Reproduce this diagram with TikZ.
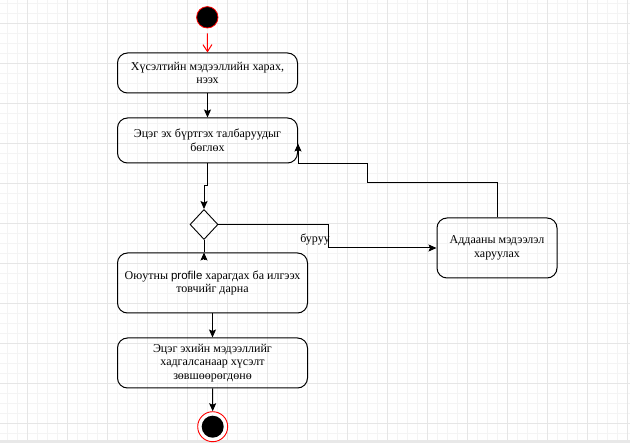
\documentclass[tikz,border=0pt]{standalone}
\usepackage{fontspec}
\setmainfont{Liberation Serif}
\newfontfamily\arialfont{Liberation Sans}
\usetikzlibrary{shapes.geometric,arrows.meta,calc}
\definecolor{gridmajor}{HTML}{E6E6E6}
\definecolor{gridminor}{HTML}{F4F4F4}
\definecolor{drawred}{HTML}{FF0000}
\tikzset{
  actbox/.style={draw=black,line width=1pt,rounded corners=10pt,align=center,
    font=\fontsize{12}{13.5}\selectfont,inner sep=2pt},
  conn/.style={draw=black,line width=1pt},
  arr/.style={conn,-{Stealth[length=8pt,width=7pt,inset=1.5pt]}},
  redarr/.style={draw=drawred,line width=1pt,-{Straight Barb[length=7pt,width=9pt]}},
  lbl/.style={font=\fontsize{12}{13.5}\selectfont,inner sep=0pt}
}
\begin{document}
\begin{tikzpicture}[x=1pt,y=-1pt]
\useasboundingbox (0,0) rectangle (630,443);
\fill[white] (0,0) rectangle (630,443);
% grid
\foreach \gx in {7,17,...,627} {\draw[gridminor,line width=0.8pt] (\gx,0) -- (\gx,443);}
\foreach \gy in {3,13,...,443} {\draw[gridminor,line width=0.8pt] (0,\gy) -- (630,\gy);}
\foreach \gx in {27,67,...,627} {\draw[gridmajor,line width=0.9pt] (\gx,0) -- (\gx,443);}
\foreach \gy in {23,63,...,423} {\draw[gridmajor,line width=0.9pt] (0,\gy) -- (630,\gy);}
\fill[gray!18] (0,440.5) rectangle (630,443);
% start
\node[circle,draw=drawred,fill=black,line width=0.8pt,minimum size=21.4pt,inner sep=0pt] (start) at (207.3,17.3) {};
% boxes
\node[actbox,minimum width=180pt,minimum height=40pt] (b1) at (207.5,73) {Хүсэлтийн мэдээллийн харах,\\нээх};
\node[actbox,minimum width=180pt,minimum height=45pt] (b2) at (207.5,140.5) {Эцэг эх бүртгэх талбаруудыг\\бөглөх};
\node[draw=black,line width=0.9pt,shape=diamond,minimum width=28pt,minimum height=30pt,inner sep=0pt] (d) at (204,224.5) {};
\node[actbox,minimum width=120pt,minimum height=60pt] (b3) at (497,248) {Аддааны мэдээлэл\\харуулах};
\node[actbox,minimum width=190pt,minimum height=60pt] (b4) at (212.5,283) {Оюутны {\arialfont\fontsize{11.5}{13.5}\selectfont profile} харагдах ба илгээх\\товчийг дарна};
\node[actbox,minimum width=190pt,minimum height=50pt] (b5) at (212.5,363) {Эцэг эхийн мэдээллийг\\хадгалсанаар хүсэлт\\зөвшөөрөгдөнө};
% end
\node[circle,draw=drawred,fill=white,line width=0.9pt,minimum size=30pt,inner sep=0pt] (end) at (212.7,426.7) {};
\node[circle,fill=black,minimum size=22pt,inner sep=0pt] (endin) at (end.center) {};
% connectors
\draw[redarr,shorten <=5pt] (start.south) -- (b1.north);
\draw[arr] (b1.south) -- (b2.north);
\draw[arr] (b2.south) -- ++(0,22) -| (d.north);
\draw[conn] (d.south) -- (d.south |- b4.north);
\draw[arr] ($(d.south |- b4.north)+(0,7)$) -- (d.south |- b4.north);
\coordinate (j1) at (328.7,224.5);
\draw[arr] (d.east) -- (j1) |- (b3.west);
\node[lbl] (wrong) at (315,240) {буруу};
\coordinate (j2) at (367.3,183);
\draw[arr] (b3.north) |- (j2) |- (b2.south east) -- ++(0,-20);
\draw[arr] (b4.south) -- (b5.north);
\draw[arr] (b5.south) -- (end.north);
\end{tikzpicture}
\end{document}
